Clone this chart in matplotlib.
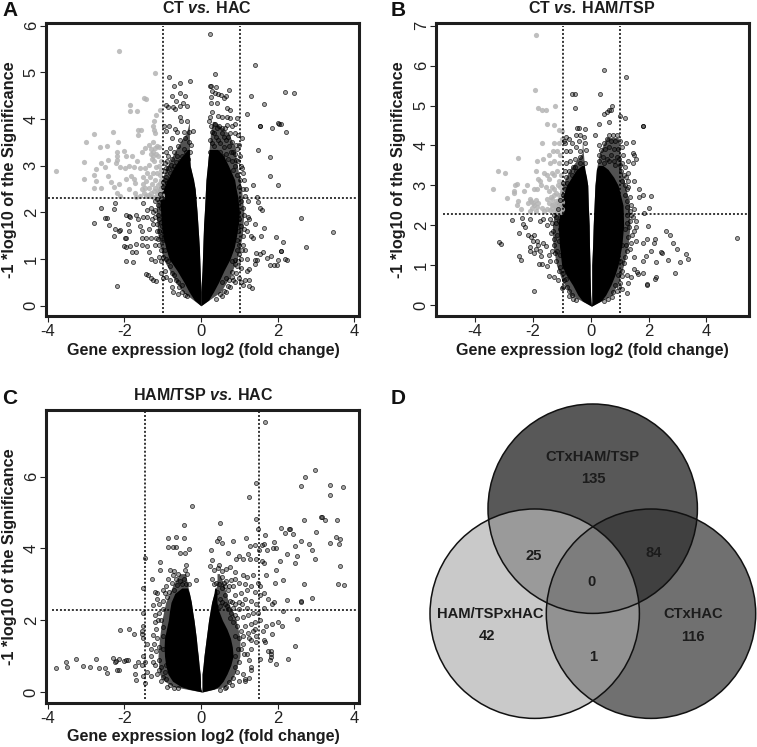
import numpy as np
import matplotlib
matplotlib.use('Agg')
import matplotlib.pyplot as plt
from matplotlib.patches import Circle, Polygon

plt.rcParams['font.family'] = ['Liberation Sans', 'DejaVu Sans']
plt.rcParams['mathtext.fontset'] = 'custom'
plt.rcParams['mathtext.bfit'] = 'Liberation Sans:italic:bold'
plt.rcParams['mathtext.rm'] = 'Liberation Sans:bold'
plt.rcParams['axes.unicode_minus'] = False

W, H = 757, 747

# dense black cores, read as outlines: y level, left outer, left inner, right inner, right outer
a_core_y = [0.0, 0.12, 0.3, 0.5, 0.75, 1.0, 1.25, 1.5, 1.75, 2.0, 2.3, 2.5, 2.7, 3.0, 3.2, 3.35]
a_core = [[0, 0, 0, 0], [-.17, 0, 0, .2], [-.31, 0, 0, .33], [-.44, -.01, .01, .46], [-.62, -.02, .03, .6], [-.83, -.03, .04, .76],
          [-.92, -.04, .05, .87], [-.99, -.06, .06, .93], [-1.03, -.08, .07, .98], [-1.05, -.1, .09, 1.0], [-1.07, -.13, .11, .97],
          [-.98, -.15, .12, .92], [-.88, -.19, .13, .88], [-.68, -.28, .17, .72], [-.5, -.3, .19, .6], [-.34, -.3, .22, .44]]
a_halo_y = [0.0, 0.3, 0.6, 1.0, 1.5, 2.0, 2.5, 3.0, 3.4, 3.7, 3.95]
a_halo = [[0, 0, 0, 0], [-.48, 0, 0, .52], [-.72, -.01, .02, .74], [-.98, -.03, .04, .95], [-1.12, -.06, .06, 1.08], [-1.17, -.1, .09, 1.12],
          [-1.12, -.15, .12, 1.06], [-.88, -.28, .17, .95], [-.62, -.3, .22, .88], [-.38, -.3, .25, .72], [-.3, -.3, .3, .36]]
b_core_y = [-0.03, 0.1, 0.25, 0.5, 0.75, 1.0, 1.5, 2.0, 2.5, 3.0, 3.2, 3.4, 3.5]
b_core = [[.03, .03, .03, .03], [-.28, .01, .05, .36], [-.44, 0, .04, .52], [-.62, -.01, .04, .7], [-.84, -.02, .04, .84], [-1.0, -.02, .04, .95],
          [-1.08, -.04, .07, 1.08], [-1.12, -.05, .09, 1.14], [-1.05, -.08, .12, 1.12], [-.83, -.1, .15, .95], [-.66, -.14, .18, .8], [-.48, -.2, .2, .6], [-.3, -.22, .26, .42]]
b_halo_y = [-0.03, 0.25, 0.6, 1.0, 1.5, 2.0, 2.5, 3.0, 3.4, 3.8, 4.2]
b_halo = [[.03, .03, .03, .03], [-.68, 0, .04, .74], [-.98, -.01, .04, .98], [-1.18, -.02, .04, 1.14], [-1.3, -.04, .07, 1.3], [-1.32, -.05, .09, 1.36],
          [-1.2, -.08, .12, 1.34], [-.98, -.1, .15, 1.2], [-.72, -.2, .2, 1.06], [-.3, -.25, .3, 1.02], [-.28, -.28, .55, .95]]
c_core_y = [0.0, 0.08, 0.15, 0.3, 0.5, 0.75, 1.0, 1.25, 1.5, 1.75, 2.0, 2.25, 2.5, 2.75, 2.9]
c_core = [[.03, .03, .03, .03], [-.32, -.01, .03, .34], [-.52, -.01, .03, .46], [-.74, -.01, .03, .58], [-.86, -.02, .03, .68], [-.92, -.05, .06, .78],
          [-.95, -.07, .08, .84], [-.96, -.1, .11, .82], [-.95, -.12, .14, .77], [-.9, -.15, .17, .68], [-.85, -.18, .2, .56],
          [-.82, -.22, .24, .47], [-.78, -.25, .28, .42], [-.68, -.3, .34, .42], [-.5, -.35, .36, .4]]
c_halo_y = [0.0, 0.15, 0.3, 0.5, 1.0, 1.5, 2.0, 2.5, 3.0, 3.3]
c_halo = [[.03, .03, .03, .03], [-.72, -.01, .03, .62], [-.95, -.01, .03, .78], [-1.08, -.02, .03, .88], [-1.12, -.07, .08, 1.02], [-1.08, -.12, .14, 1.02],
          [-1.02, -.18, .2, .92], [-.92, -.25, .28, .72], [-.72, -.35, .42, .6], [-.55, -.4, .42, .48]]

a_gray = [[-3.78, 2.89], [-2.13, 5.45], [-1.2, 4.98], [-1.49, 4.46], [-1.44, 4.43], [-1.86, 4.3], [-1.84, 4.17], [-1.67, 4.17],
          [-1.17, 4.09], [-1.07, 4.2], [-1.22, 3.95], [-1.26, 3.86], [-1.23, 3.76], [-1.2, 3.7], [-2.8, 3.68], [-2.3, 3.73],
          [-1.63, 3.76], [-1.57, 3.76], [-1.64, 3.66], [-3.0, 3.51], [-2.17, 3.5], [-2.63, 3.4], [-2.44, 3.43], [-3.05, 3.09],
          [-3.06, 2.72], [-2.73, 2.92], [-2.78, 2.8], [-2.75, 2.68], [-2.8, 2.52], [-2.6, 3.05], [-2.42, 3.12], [-2.5, 2.98],
          [-2.62, 2.52], [-2.42, 2.78], [-2.35, 2.65], [-2.28, 2.55], [-2.2, 3.3], [-2.2, 3.2], [-2.18, 3.12], [-2.22, 3.05],
          [-2.0, 3.32], [-1.95, 3.2], [-2.1, 2.98], [-1.98, 2.95], [-1.87, 3.0], [-2.15, 2.6], [-2.2, 2.42], [-2.12, 2.35],
          [-1.95, 2.72], [-1.88, 2.5], [-1.8, 3.2], [-1.75, 2.98], [-1.82, 2.78], [-1.75, 2.72], [-1.73, 2.62], [-1.72, 2.42],
          [-1.66, 3.1], [-1.6, 2.95], [-1.55, 3.3], [-1.45, 3.38], [-1.35, 3.45], [-1.25, 3.5], [-1.15, 3.42], [-1.3, 3.25],
          [-1.28, 3.15], [-1.22, 3.1], [-1.35, 3.02], [-1.45, 2.95], [-1.18, 2.97], [-1.1, 3.4], [-1.05, 3.1], [-1.52, 2.75],
          [-1.42, 2.68], [-1.32, 2.75], [-1.2, 2.7], [-1.08, 2.8], [-1.02, 2.62], [-1.55, 2.5], [-1.48, 2.42], [-1.42, 2.36],
          [-1.35, 2.52], [-1.3, 2.42], [-1.25, 2.34], [-1.2, 2.52], [-1.15, 2.42], [-1.1, 2.34], [-1.05, 2.5], [-1.02, 2.38],
          [-1.08, 2.62], [-1.12, 2.58], [-1.6, 2.36], [-1.7, 2.34], [-1.02, 2.32], [-1.05, 2.7], [-1.28, 2.6], [-1.38, 2.38],
          [-1.25, 3.3], [-1.18, 3.25], [-1.12, 3.2], [-1.25, 3.2], [-1.3, 3.35], [-1.2, 3.38], [-1.05, 2.9], [-1.1, 3.0], [-1.15, 2.85],
          [-1.25, 2.85], [-1.4, 2.85], [-1.5, 2.6], [-1.22, 2.45], [-1.32, 2.36], [-1.18, 2.34], [-1.12, 2.48], [-1.06, 2.42], [-1.45, 2.52]]

a_dark = [[.24, 5.82], [-.82, 4.9], [-.55, 4.78], [-.28, 4.82], [-.7, 4.72], [-.55, 4.55], [-.75, 4.5], [-.42, 4.5], [-.65, 4.38],
          [-.92, 4.3], [-.85, 4.25], [-.72, 4.25], [-.68, 4.22], [-.55, 4.28], [-.48, 4.35], [-.37, 4.28], [-.55, 4.05], [-.52, 3.95],
          [-.36, 3.97], [-.68, 3.78], [-.62, 3.72], [-.82, 3.85], [-.97, 3.85], [-.9, 3.75], [-.45, 3.72], [-.3, 3.72], [-.2, 3.75],
          [-.75, 3.6], [-.55, 3.55], [-.42, 3.6], [-.3, 3.5], [-.25, 3.45], [-.6, 3.42], [-.8, 3.38], [-.92, 3.3], [-.7, 3.3],
          [-.45, 3.35], [-.4, 3.3], [-.75, 3.15], [-.95, 3.05], [-.85, 2.95], [-.62, 3.2], [-.55, 3.1], [-.28, 3.3], [-.33, 3.15],
          [-.9, 2.75], [-.98, 2.55], [-1.03, 2.28], [-.88, 3.1], [-.7, 3.0], [-.95, 2.88], [-.8, 2.85], [-.92, 2.45],
          [.38, 4.97], [.25, 4.72], [.27, 4.7], [.4, 4.68], [.72, 4.63], [.28, 4.6], [.38, 4.55], [.45, 4.53], [.52, 4.52], [.65, 4.5],
          [.6, 4.45], [.26, 4.47], [.27, 4.35], [.43, 4.35], [.68, 4.23], [.76, 4.2], [.3, 4.15], [.25, 4.05], [.45, 4.07], [.55, 4.05],
          [.68, 4.05], [.75, 4.02], [.95, 4.03], [.2, 3.95], [.27, 3.85], [.38, 3.9], [.48, 3.85], [.62, 3.8], [.8, 3.85], [.9, 3.9],
          [.35, 3.7], [.55, 3.7], [.75, 3.7], [.88, 3.7], [.98, 3.65], [1.08, 3.6], [.25, 3.55], [.45, 3.55], [.65, 3.55], [.82, 3.5],
          [.92, 3.45], [1.0, 3.45], [.35, 3.42], [.6, 3.4], [.78, 3.3], [.9, 3.25], [.98, 3.1], [1.05, 3.0], [.9, 3.0], [1.1, 2.85],
          [1.02, 2.7], [1.0, 2.55], [1.15, 2.35], [1.1, 2.5], [.7, 3.15], [.82, 3.1], [.5, 3.3], [.4, 3.25], [.95, 2.8], [.85, 2.9],
          [1.42, 5.15], [2.2, 4.58], [2.43, 4.56], [1.31, 4.5], [1.64, 4.33], [1.2, 4.12], [1.53, 3.85], [1.55, 3.86], [1.85, 3.82],
          [2.0, 3.92], [2.05, 3.9], [2.08, 3.89], [2.22, 3.72], [1.48, 3.34], [1.8, 3.18], [1.8, 2.77], [2.0, 2.59], [1.36, 2.59],
          [1.46, 2.33], [1.5, 2.23], [1.55, 2.1], [1.6, 2.05], [1.22, 1.9], [1.25, 1.85], [1.4, 1.75], [1.65, 1.66], [1.58, 1.5],
          [1.3, 1.5], [1.2, 1.6], [1.35, 1.45], [2.62, 1.87], [3.45, 1.58], [2.73, 1.26], [1.97, 1.47], [2.13, 1.36], [2.1, 1.18],
          [2.08, 1.17], [2.2, 1.01], [2.25, .97], [2.0, .98], [1.98, .87], [1.9, .87], [1.8, .88], [1.83, 1.07], [1.72, 1.03],
          [1.62, 1.15], [1.45, 1.13], [1.55, 1.1], [1.4, .97], [1.47, .98], [1.42, .9], [1.25, .78], [1.2, .75], [1.15, .55],
          [1.25, .55], [1.33, .38], [1.25, .43], [1.0, .6], [1.05, .5], [1.1, .45], [1.1, 1.3], [1.0, 1.1], [1.15, 1.2], [1.05, 1.0],
          [.95, .85], [1.05, .8], [1.2, 1.0], [1.1, 1.5], [1.05, 1.7], [.98, 2.0], [1.1, 2.1], [.95, 1.4], [1.0, 1.85], [1.05, 2.25],
          [-2.6, 2.1], [-2.25, 2.2], [-2.27, 2.07], [-2.5, 1.88], [-2.45, 1.88], [-2.78, 1.78], [-2.39, 1.73], [-2.27, 1.5], [-2.25, 1.65],
          [-2.15, 1.6], [-2.1, 1.62], [-1.95, 1.95], [-1.88, 1.93], [-1.85, 1.9], [-1.9, 1.75], [-1.88, 1.6], [-1.7, 1.95], [-1.65, 1.85],
          [-1.6, 1.7], [-1.55, 1.6], [-1.5, 1.9], [-1.4, 1.9], [-1.3, 2.1], [-1.5, 2.2], [-1.4, 2.05], [-1.25, 1.75], [-1.42, 1.45],
          [-1.55, 1.45], [-1.95, 1.45], [-1.97, 1.45], [-2.0, 1.27], [-1.95, 1.25], [-1.85, 1.28], [-1.8, 1.15], [-1.7, 1.15], [-1.7, 1.33],
          [-1.55, 1.3], [-1.4, 1.28], [-1.35, 1.15], [-1.2, 1.3], [-1.95, .95], [-1.76, .93], [-2.2, .42], [-1.43, .68], [-1.38, .65],
          [-1.3, .6], [-1.25, .55], [-1.18, .53], [-1.05, .7], [-1.0, .6], [-.95, .75], [-1.3, 1.0], [-1.2, .95], [-1.1, 1.05],
          [-1.1, 1.3], [-1.05, 1.5], [-1.15, 1.6], [-1.2, 1.9], [-1.1, 1.85], [-1.05, 2.1], [-1.2, 2.25], [-1.05, .95], [-.92, .62],
          [-.8, .55], [-.75, .4], [-.72, .3], [-.6, .25], [-.5, .3], [-.35, .2], [.5, .25], [.65, .3], [.75, .4], [.85, .55], [.9, .5],
          [.8, .72], [.92, .7], [.88, .9], [-.9, 1.0], [-.95, 1.2], [-1.0, 1.4], [-1.02, 1.7], [-1.0, 1.95], [-1.05, 1.8],
          [-.8, .85], [-.7, .65], [-.6, .5], [-.5, .45], [.55, .5], [.65, .6], [.72, .55], [.82, .95], [.95, 1.2], [.98, 1.6],
          [-.98, 2.25], [-1.12, 2.15], [-1.1, 1.6], [-.98, 1.6], [-.9, 1.4], [-.95, 2.1],
          [-.85, 3.22], [-.65, 3.08], [-.5, 3.22], [-.38, 3.12], [-.78, 3.02], [-.9, 2.95], [-.72, 2.92], [.25, 3.3], [.3, 3.2], [.55, 3.2],
          [.65, 3.25], [.72, 3.42], [.3, 3.48], [.5, 3.48], [.4, 3.62], [.6, 3.62], [.7, 3.62], [.28, 3.72], [.42, 3.8], [.55, 3.82], [.68, 3.88],
          [.85, 3.3], [.95, 3.35], [.92, 3.12], [1.02, 3.22], [1.08, 2.95], [1.12, 2.7], [1.18, 2.5], [1.22, 2.25], [1.12, 1.95], [1.18, 1.78],
          [1.12, 1.65], [1.08, 1.2], [1.0, 1.3], [.9, .98], [.98, .95], [.8, .62], [.7, .42], [.6, .32], [.55, .2], [.4, .15], [-.42, .22],
          [-.58, .4], [-.65, .55], [-.75, .7], [-.85, .95], [-.98, 1.05], [-1.05, 1.2], [-1.12, 1.42], [-1.15, 1.75], [-1.2, 2.05], [-1.18, 1.45],
          [-1.3, 1.45], [-1.28, 1.85], [-1.35, 1.65], [-1.25, 2.0], [-1.12, 1.95], [-1.15, 2.28], [-1.08, 2.4], [-.98, 2.65], [-.95, 2.7], [-.88, 2.62]]

b_gray = [[-1.9, 6.78], [-1.93, 5.38], [-1.82, 4.93], [-1.67, 4.9], [-1.55, 4.9], [-1.22, 5.0], [-1.5, 4.55], [-1.27, 4.52], [-1.1, 4.38],
          [-1.0, 4.35], [-1.68, 4.05], [-1.25, 4.05], [-1.1, 4.05], [-1.0, 4.15], [-2.5, 3.68], [-1.65, 3.65], [-1.45, 3.75], [-1.3, 3.85],
          [-1.15, 3.85], [-1.05, 3.75], [-1.85, 3.6], [-1.4, 3.55], [-1.25, 3.62], [-1.1, 3.55], [-3.2, 3.35], [-2.97, 3.3], [-3.38, 2.9],
          [-2.9, 2.67], [-2.65, 2.87], [-2.65, 2.8], [-2.55, 3.03], [-2.6, 3.0], [-2.5, 2.6], [-2.55, 2.5], [-2.4, 2.4], [-2.3, 2.85],
          [-2.2, 3.0], [-2.15, 2.55], [-2.1, 2.65], [-2.05, 2.6], [-2.0, 2.55], [-1.95, 2.5], [-2.02, 2.42], [-1.9, 2.62], [-1.85, 2.45],
          [-1.8, 2.55], [-1.88, 2.35], [-2.1, 2.35], [-1.95, 2.9], [-1.85, 2.92], [-1.9, 3.35], [-1.83, 3.15], [-1.75, 3.1], [-1.7, 3.0],
          [-1.6, 3.3], [-1.5, 3.25], [-1.42, 3.15], [-1.35, 3.3], [-1.25, 3.25], [-1.15, 3.35], [-1.02, 3.25], [-1.55, 2.95], [-1.45, 2.85],
          [-1.35, 2.95], [-1.25, 2.9], [-1.12, 3.0], [-1.0, 3.05], [-1.5, 2.65], [-1.42, 2.55], [-1.35, 2.65], [-1.28, 2.75], [-1.2, 2.6],
          [-1.1, 2.75], [-1.02, 2.7], [-1.0, 2.85], [-1.5, 2.4], [-1.4, 2.38], [-1.32, 2.42], [-1.25, 2.35], [-1.18, 2.45], [-1.1, 2.35],
          [-1.05, 2.5], [-1.0, 2.4], [-1.6, 2.35], [-1.68, 2.42], [-1.15, 2.55], [-1.08, 2.62], [-1.3, 2.52], [-1.0, 2.58],
          [-1.2, 2.82], [-1.05, 2.95], [-1.12, 2.42], [-1.22, 2.48], [-1.35, 2.5], [-1.02, 2.32], [-1.15, 2.34], [-1.38, 2.72], [-1.08, 3.12]]

b_dark = [[.45, 5.9], [1.23, 5.72], [-.65, 5.3], [-.55, 5.28], [.33, 5.28], [-.55, 4.95], [.75, 5.0], [.55, 4.83], [.62, 4.88], [.72, 4.88],
          [.45, 4.78], [1.0, 4.75], [1.2, 4.7], [.3, 4.55], [.65, 4.58], [1.8, 4.5], [1.82, 4.48], [-.48, 4.43], [-.4, 4.43], [-.18, 4.4],
          [-.5, 4.25], [-.35, 4.25], [-.22, 4.22], [-.85, 4.2], [-.75, 4.15], [.15, 4.25], [.65, 4.25], [.78, 4.27], [.9, 4.25], [1.22, 4.05],
          [1.46, 4.08], [-.92, 4.1], [-.88, 4.05], [-.65, 4.05], [-.4, 4.1], [-.2, 4.05], [.3, 4.0], [.45, 4.05], [.55, 4.15], [.7, 4.1],
          [.85, 4.1], [1.0, 4.1], [.35, 3.88], [.5, 3.92], [.65, 3.95], [.8, 3.92], [.95, 3.9], [1.1, 3.95], [-.85, 3.85], [-.7, 3.85], [-.5, 3.95],
          [-.35, 3.85], [-.15, 3.88], [1.45, 3.8], [1.5, 3.75], [1.55, 3.65], [1.45, 3.55], [1.3, 3.6], [1.12, 3.75], [.9, 3.7], [.7, 3.75],
          [.55, 3.65], [.28, 3.6], [.45, 3.55], [-.85, 3.55], [-.7, 3.6], [-.55, 3.65], [-.35, 3.7], [-.2, 3.55], [1.0, 3.5], [1.2, 3.45],
          [1.3, 3.3], [1.5, 3.1], [1.3, 3.1], [1.15, 3.25], [1.08, 3.1], [.85, 3.5], [-.9, 3.35], [-.75, 3.35], [-.55, 3.45], [-.85, 3.2], [-.95, 3.05],
          [1.25, 2.9], [1.35, 2.7], [1.2, 2.75], [1.25, 2.6], [1.4, 2.5], [1.5, 2.4], [1.35, 2.35], [1.25, 2.25], [1.45, 2.2], [1.55, 2.1], [1.35, 2.1],
          [1.68, 2.9], [1.8, 2.75], [1.67, 2.72], [2.08, 2.73], [1.85, 2.3], [2.03, 2.42], [1.98, 1.97], [2.6, 1.85], [2.75, 1.75], [2.85, 1.55],
          [2.97, 1.4], [3.28, 1.27], [3.35, 1.15], [3.07, 1.09], [2.68, 1.13], [2.24, 1.65], [2.2, 1.55], [2.25, 1.09], [2.42, 1.32], [2.45, 1.31],
          [2.93, .8], [2.25, .7], [2.22, .65], [1.95, .53], [1.95, .5], [2.1, 1.35], [1.9, 1.24], [1.8, 1.1], [1.95, 1.65], [1.8, 1.55],
          [1.8, .8], [1.6, .82], [1.5, .9], [1.65, .78], [1.3, .55], [1.25, .3], [1.1, .4], [1.25, .75], [1.4, .7], [1.5, 1.2], [1.35, 1.4], [1.55, 1.6],
          [1.5, 1.85], [1.55, 1.95], [1.3, 1.7], [1.2, 1.2], [1.1, .85], [1.0, .55], [.9, .35], [.75, .2], [5.07, 1.68],
          [-2.7, 2.12], [-2.37, 2.18], [-2.1, 2.15], [-2.35, 2.02], [-2.28, 1.95], [-2.48, 1.8], [-2.15, 1.75], [-2.05, 1.7], [-1.95, 1.75], [-1.98, 1.6],
          [-1.85, 1.6], [-3.15, 1.57], [-3.08, 1.52], [-2.48, 1.22], [-2.42, 1.12], [-2.08, 1.45], [-2.1, 1.35], [-1.88, 1.4], [-1.8, 1.5], [-1.75, 1.35],
          [-1.65, 1.55], [-1.55, 1.48], [-1.72, 1.22], [-1.95, 1.3], [-1.78, 1.02], [-1.68, 1.02], [-1.45, 1.25], [-1.4, 1.1], [-1.5, .98], [-1.45, .72],
          [-1.27, .7], [-1.12, .62], [-1.0, .42], [-.95, .45], [-.8, .45], [-1.97, .36], [-1.75, 2.1], [-1.65, 2.15], [-1.5, 2.0], [-1.4, 2.15],
          [-1.3, 1.85], [-1.2, 2.05], [-1.1, 2.1], [-1.15, 1.75], [-1.25, 1.5], [-1.15, 1.35], [-1.05, 1.25], [-1.2, 1.1], [-1.05, .95], [-.95, .8],
          [-.85, .65], [-.75, .35], [-.65, .25], [-1.0, 1.6], [-1.1, 1.6], [-1.05, 1.9], [-.6, .15], [.6, .15], [.85, .5], [.95, .75], [1.0, 1.1],
          [1.1, 1.5], [1.2, 1.9], [1.25, 2.05],
          [-.8, 3.05], [-.65, 3.25], [-.5, 3.35], [-.35, 3.55], [-.6, 3.45], [-.42, 3.32], [-.3, 3.4], [.3, 3.75], [.42, 3.72], [.65, 3.62], [.8, 3.62], [.98, 3.65],
          [1.05, 3.35], [1.1, 3.55], [1.22, 3.2], [1.18, 3.0], [1.28, 2.95], [1.25, 2.45], [1.38, 2.25], [1.32, 1.95], [1.42, 1.75], [1.38, 1.55], [1.25, 1.35],
          [1.22, 1.5], [1.15, 1.05], [1.08, .72], [.98, .45], [.78, .32], [-1.25, 2.25], [-1.32, 2.05], [-1.38, 1.8], [-1.28, 1.65], [-1.35, 1.35], [-1.22, 1.3],
          [-1.18, 2.2], [-1.12, 2.4], [-1.05, 2.62], [-.95, 2.75], [-.9, 2.9], [-1.1, .85], [-.92, .62], [-.75, .22], [-.5, .12], [.45, .1]]

c_dark = [[1.68, 7.53], [2.97, 6.2], [2.72, 6.0], [2.6, 5.73], [1.45, 5.83], [3.38, 5.77], [3.7, 5.72], [3.37, 5.48], [1.25, 5.43], [-.22, 5.19],
          [3.13, 4.89], [3.17, 4.88], [3.24, 4.8], [3.55, 4.8], [2.68, 4.79], [1.45, 4.83], [.5, 4.72], [-.45, 4.66], [2.1, 4.58], [2.3, 4.54], [2.32, 4.53],
          [1.5, 4.55], [2.2, 4.44], [2.4, 4.4], [3.0, 4.47], [1.68, 4.37], [3.53, 4.33], [3.64, 4.27], [-.85, 4.3], [-.65, 4.33], [-.45, 4.3],
          [.47, 4.3], [.42, 4.22], [.55, 4.16], [.85, 4.22], [1.18, 4.3], [1.28, 4.08], [1.42, 4.1], [1.6, 4.1], [1.65, 4.12], [1.9, 4.18], [2.6, 4.2],
          [2.83, 4.13], [3.38, 4.16], [3.6, 4.12], [-.85, 4.05], [-.72, 4.05], [-.65, 4.05], [-.3, 3.98], [-.55, 3.88], [-.42, 3.88], [.27, 3.97],
          [.7, 3.88], [1.23, 3.85], [1.52, 3.95], [1.72, 3.95], [1.95, 4.0], [2.45, 4.07], [2.9, 3.95], [2.25, 3.86], [2.5, 3.8], [2.98, 3.7], [1.88, 4.0],
          [-1.46, 3.73], [-1.06, 3.62], [-1.07, 3.4], [-.4, 3.55], [.3, 3.68], [.25, 3.52], [.48, 3.55], [.92, 3.72], [1.0, 3.78], [1.1, 3.7], [1.28, 3.7],
          [1.45, 3.7], [1.6, 3.65], [1.65, 3.6], [2.07, 3.66], [2.45, 3.6], [3.63, 3.52], [-.8, 3.4], [-.7, 3.38], [-.6, 3.3], [-.42, 3.4], [-.35, 3.3],
          [.35, 3.4], [.45, 3.45], [.55, 3.38], [.65, 3.42], [.75, 3.48], [.9, 3.35], [1.1, 3.25], [1.2, 3.2], [1.35, 3.25], [1.7, 3.25], [1.95, 3.4],
          [-.85, 3.15], [-.75, 3.05], [-.65, 3.15], [-.55, 3.1], [-.45, 3.15], [-.3, 3.0], [-.12, 3.12], [-1.28, 3.15], [.3, 3.15], [.4, 3.05],
          [.55, 3.2], [.65, 3.1], [.78, 3.12], [.9, 3.15], [1.0, 3.05], [1.15, 3.0], [1.3, 2.95], [1.5, 3.05], [1.55, 2.95], [2.15, 3.12], [1.93, 3.05],
          [2.7, 3.02], [3.57, 3.0], [3.73, 2.98], [-1.5, 2.9], [-1.2, 2.78], [-1.0, 2.85], [-.9, 2.95], [-.95, 2.75], [-.7, 2.85], [.55, 2.9], [.7, 2.85],
          [.85, 2.95], [1.05, 2.75], [1.2, 2.85], [1.4, 2.8], [1.55, 2.7], [1.65, 2.75], [1.75, 2.6], [1.85, 2.45], [1.92, 2.5], [2.25, 2.57],
          [2.6, 2.55], [2.9, 2.63], [2.6, 2.5], [-1.15, 2.6], [-1.25, 2.42], [-1.0, 2.55], [-.88, 2.65], [.5, 2.6], [.62, 2.7], [.75, 2.55], [.9, 2.7],
          [1.0, 2.5], [1.15, 2.6], [1.3, 2.55], [1.45, 2.45], [1.65, 2.35], [.5, 2.4], [.7, 2.3], [.85, 2.35], [1.0, 2.3], [1.2, 2.35], [1.35, 2.2],
          [1.5, 2.2], [2.15, 2.25], [2.5, 2.03], [1.55, 2.0], [1.85, 1.9], [2.0, 1.95], [2.12, 1.85], [1.85, 1.62], [1.7, 1.85], [1.62, 1.7],
          [-1.5, 2.2], [-1.2, 2.15], [-1.1, 2.2], [-1.05, 2.0], [-1.2, 1.95], [-1.0, 1.8], [-1.0, 1.55], [-1.15, 1.5], [-1.5, 1.85], [-1.55, 1.7],
          [-1.5, 1.5], [-2.1, 1.72], [-1.87, 1.75], [-1.75, 1.63], [-1.55, 1.63], [-1.4, 1.35], [-1.3, 1.2], [-1.1, 1.25], [-1.0, 1.2], [-1.3, 1.0],
          [-1.5, 1.0], [-1.45, .85], [-1.55, .75], [-1.72, .72], [-1.63, .85], [-1.9, .88], [-1.95, .88], [-2.0, .87], [-2.15, .6], [-2.18, .6],
          [-2.15, .92], [-2.22, .87], [-2.3, .94], [-2.25, .83], [-1.72, .5], [-1.7, .34], [-1.5, .46], [-1.4, .55], [-1.45, .25], [-1.3, .45],
          [-1.2, .75], [-1.1, .6], [-1.1, .9], [-1.0, .42], [-.92, .35], [-.8, .2], [-.7, .12], [-.6, .1], [.5, .05], [.65, .15], [.8, .2],
          [1.15, .35], [1.15, .3], [1.25, .38], [1.0, .3], [1.1, .5], [1.3, .7], [1.25, .9], [1.3, .6], [1.2, 1.05], [1.3, 1.2], [1.1, 1.35],
          [1.25, 1.5], [1.35, 1.7], [1.45, 1.4], [1.65, 1.45], [1.68, 1.4], [1.75, 1.15], [1.82, 1.05], [1.83, 1.15], [1.83, .98], [1.8, .9],
          [1.96, .78], [1.55, .92], [2.28, .93], [2.45, 1.27], [.95, .55], [.9, 1.0], [.98, 1.2], [1.0, 1.5], [1.05, 1.7], [1.15, 1.85], [1.3, 1.9],
          [.9, 1.55], [.85, 1.95], [.95, 2.05], [.75, 2.05], [-2.75, .93], [-3.25, .93], [-3.52, .85], [-3.5, .7], [-3.78, .67], [-3.07, .73],
          [-2.66, .67], [-2.5, .66], [-2.45, .53], [-2.9, .7], [-1.05, .7], [-.95, .55], [-.9, .75],
          [-.98, 2.3], [-1.1, 2.45], [-1.15, 2.75], [-.82, 2.8], [-.72, 3.25], [-.62, 2.98], [-.5, 3.0], [-.38, 3.02], [-1.12, 2.0], [-1.18, 1.75], [-1.25, 1.6],
          [-1.22, 1.35], [-1.18, 1.15], [-1.25, .85], [-1.15, .5], [-1.05, .3], [-.88, .15], [.35, 3.0], [.48, 3.02], [.6, 3.05], [.72, 2.95], [.42, 2.78],
          [.55, 2.5], [.62, 2.45], [.68, 2.4], [.8, 2.5], [.78, 2.2], [.88, 2.15], [.95, 1.85], [1.1, 1.55], [1.05, 1.2], [1.12, 1.05], [1.0, .85], [.9, .7], [.85, .4],
          [.72, .28], [.62, .1], [1.22, 1.65], [1.3, 1.45], [1.42, 1.75], [1.4, 1.95], [1.45, 1.55], [1.1, 2.1], [1.22, 2.15], [1.08, 2.45], [.62, 2.95], [.9, 2.45]]

# panel D, counts and the grays of each region
venn_labels = ['CTxHAM/TSP', 'HAM/TSPxHAC', 'CTxHAC']
venn_only = ['135', '42', '116']
venn_pair = ['25', '84', '1']
venn_all = '0'
only_colors = ['#585858', '#c9c9c9', '#707070']
pair_colors = ['#9a9a9a', '#404040', '#929292']
all_color = '#7d7d7d'


def box(x0, y0, x1, y1):
    return [x0 / W, 1 - y1 / H, (x1 - x0) / W, (y1 - y0) / H]


def draw_volcano(pos, xlim, ylim, xticks, yticks, core_y, core, halo_y, halo, dark, gray, vlines, hline, hspan, vspan):
    ax = fig.add_axes(box(*pos))
    core = np.array(core)
    halo = np.array(halo)
    ax.fill_betweenx(halo_y, halo[:, 0], halo[:, 1], color='black', alpha=.68, lw=0, zorder=1)
    ax.fill_betweenx(halo_y, halo[:, 2], halo[:, 3], color='black', alpha=.68, lw=0, zorder=1)
    ax.fill_betweenx(core_y, core[:, 0], core[:, 1], color='black', lw=0, zorder=2)
    ax.fill_betweenx(core_y, core[:, 2], core[:, 3], color='black', lw=0, zorder=2)
    if gray is not None:
        gray = np.array(gray)
        ax.scatter(gray[:, 0], gray[:, 1], s=14, color='#b4b4b4', alpha=.85, lw=0, zorder=3)
    dark = np.array(dark)
    ax.scatter(dark[:, 0], dark[:, 1], s=8.5, facecolor=(0, 0, 0, .35), edgecolor=(0, 0, 0, .72), lw=.6, zorder=4)
    for v in vlines:
        ax.plot([v, v], vspan, color='black', lw=1.1, ls=(0, (1.3, 1.3)), zorder=5)
    ax.plot(hspan, [hline, hline], color='black', lw=1.1, ls=(0, (1.3, 1.3)), zorder=5)
    ax.set_xlim(xlim)
    ax.set_ylim(ylim)
    ax.set_xticks(xticks)
    ax.set_yticks(yticks)
    ax.tick_params(axis='both', labelsize=12, length=4, width=.8, color='#222222', labelcolor='#222222', pad=2)
    ax.tick_params(axis='y', labelrotation=90, pad=1)
    for lab in ax.get_yticklabels():
        lab.set_va('center')
    for s in ax.spines.values():
        s.set_linewidth(2.2)
        s.set_color('#1e1e1e')
    return ax


def region(keep):
    # outline of the part of the circles listed in keep, walked along their edges
    t = np.linspace(0, 2 * np.pi, 721)
    pts = []
    for i in keep:
        c = np.array(centers[i])
        ring = c + R * np.c_[np.cos(t), np.sin(t)]
        inside = np.ones(len(t), bool)
        for j in keep:
            if j != i:
                inside &= np.hypot(*(ring - np.array(centers[j])).T) <= R
        pts.append(ring[inside])
    pts = np.vstack(pts)
    mid = pts.mean(axis=0)
    return pts[np.argsort(np.arctan2(pts[:, 1] - mid[1], pts[:, 0] - mid[0]))]


fig = plt.figure(figsize=(W / 100, H / 100), dpi=100)

draw_volcano((45.7, 23, 359, 316), (-4.05, 4.125), (-.22, 6.06), [-4, -2, 0, 2, 4], range(0, 7),
             a_core_y, a_core, a_halo_y, a_halo, a_dark, a_gray, [-.99, 1.02], 2.3, (-4, 4.05), (-.16, 6.0))
draw_volcano((435.7, 23, 749.3, 316), (-5.35, 5.48), (-.276, 7.07), [-4, -2, 0, 2, 4], range(0, 8),
             b_core_y, b_core, b_halo_y, b_halo, b_dark, b_gray, [-.95, 1.03], 2.28, (-5.1, 5.4), (-.2, 7.0))
draw_volcano((45.7, 410, 359, 703), (-4.05, 4.125), (-.306, 7.86), [-4, -2, 0, 2, 4], [0, 2, 4, 6],
             c_core_y, c_core, c_halo_y, c_halo, c_dark, None, [-1.47, 1.52], 2.28, (-3.88, 4.05), (-.2, 7.8))

# overlay in pixel coordinates for the venn and all the loose labels
over = fig.add_axes([0, 0, 1, 1], zorder=10)
over.set_xlim(0, W)
over.set_ylim(H, 0)
over.axis('off')
over.patch.set_alpha(0)

centers = [(592.7, 508.7), (534.7, 613.7), (651.0, 613.7)]
R = 104.7
for c, col in zip(centers, only_colors):
    over.add_patch(Circle(c, R, facecolor=col, edgecolor='none'))
for keep, col in zip([(0, 1), (0, 2), (1, 2)], pair_colors):
    over.add_patch(Polygon(region(keep), closed=True, facecolor=col, edgecolor='none'))
over.add_patch(Polygon(region((0, 1, 2)), closed=True, facecolor=all_color, edgecolor='none'))
for c in centers:
    over.add_patch(Circle(c, R, facecolor='none', edgecolor='#111111', lw=1.1))


def label(x, y, s, size=10.6, rot=0, col='#1c1c1c'):
    over.text(x, y, s, fontsize=size, fontweight='bold', rotation=rot, ha='center', va='center', color=col)


label(592.7, 456.7, venn_labels[0])
label(593.3, 479, venn_only[0])
label(490, 614, venn_labels[1])
label(487.3, 635.7, venn_only[1])
label(693.3, 614, venn_labels[2])
label(693.3, 636.7, venn_only[2])
label(533.7, 555.7, venn_pair[0])
label(654, 552.7, venn_pair[1])
label(592.7, 657.3, venn_pair[2])
label(592, 582.3, venn_all)

for x, y, s in [(10, 11, 'A'), (398, 11, 'B'), (10, 398, 'C'), (398, 398, 'D')]:
    label(x, y, s, size=15, col='#111111')

label(206.7, 8, r'CT $\mathbfit{vs.}\,$HAC', size=11.5)
label(592, 8, r'CT $\mathbfit{vs.}\,$HAM/TSP', size=11.5)
label(203, 395, r'HAM/TSP $\mathbfit{vs.}\,$HAC', size=11.5)

xl = 'Gene expression log2 (fold change)'
yl = '-1 *log10 of the Significance'
label(203, 350, xl, size=11.6)
label(592.7, 350, xl, size=11.6)
label(203, 737, xl, size=11.6)
label(10, 170, yl, size=11.7, rot=90)
label(399, 170, yl, size=11.7, rot=90)
label(10, 557, yl, size=11.7, rot=90)

fig.savefig('out.png', dpi=100)
